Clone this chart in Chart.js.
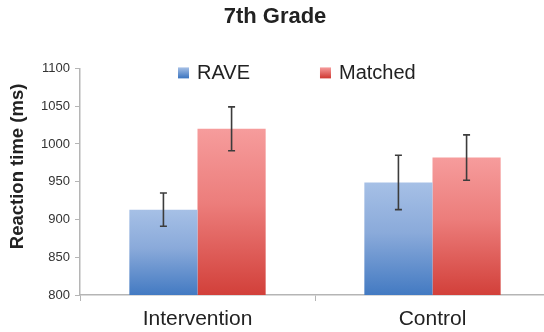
<!DOCTYPE html>
<html>
<head>
<meta charset="utf-8">
<script src="https://cdn.jsdelivr.net/npm/chart.js@4.4.1/dist/chart.umd.min.js"></script>
<style>
    html, body { margin: 0; padding: 0; background: #fff; overflow: hidden; }
    #wrap { width: 552px; height: 332px; }
</style>
</head>
<body>
<div id="wrap"><canvas id="chart"></canvas></div>
<script>
const groups = ['Intervention', 'Control'];
const raveValues = [913, 949];
const raveErrors = [22, 36];
const matchedValues = [1020, 982];
const matchedErrors = [29, 30];
const yMin = 800;
const yMax = 1100;
const yStep = 50;
const yTitle = 'Reaction time (ms)';

const FONT = '"Liberation Sans", Arial, sans-serif';
const blueStops = ['#a6c0e6', '#8aaada', '#437ac2'];
const redStops = ['#f69c9c', '#ec7d7b', '#d2403a'];

// vertical gradient from the top of each bar down to the axis
function barGradient(stops) {
    return function (ctx) {
        const chart = ctx.chart;
        if (!chart.chartArea || ctx.type !== 'data') return stops[1];
        const y = chart.scales.y;
        const top = y.getPixelForValue(ctx.raw);
        const bottom = y.getPixelForValue(y.min);
        const g = chart.ctx.createLinearGradient(0, top, 0, bottom);
        g.addColorStop(0, stops[0]);
        g.addColorStop(0.45, stops[1]);
        g.addColorStop(1, stops[2]);
        return g;
    };
}

const errorBars = {
    id: 'errorBars',
    afterDatasetsDraw(chart) {
        const c = chart.ctx;
        const y = chart.scales.y;
        c.save();
        c.strokeStyle = '#3c3c3c';
        c.lineWidth = 1.6;
        chart.data.datasets.forEach((ds, i) => {
            const meta = chart.getDatasetMeta(i);
            meta.data.forEach((bar, j) => {
                const v = ds.data[j];
                const e = ds.errors[j];
                const yt = y.getPixelForValue(v + e);
                const yb = y.getPixelForValue(v - e);
                c.beginPath();
                c.moveTo(bar.x, yt); c.lineTo(bar.x, yb);
                c.moveTo(bar.x - 3.5, yt); c.lineTo(bar.x + 3.5, yt);
                c.moveTo(bar.x - 3.5, yb); c.lineTo(bar.x + 3.5, yb);
                c.stroke();
            });
        });
        c.restore();
    }
};

// legend sits inside the plot, plus the y title a bit above centre
const annotations = {
    id: 'annotations',
    afterDraw(chart) {
        const c = chart.ctx;
        const area = chart.chartArea;
        const cy = area.top + 4;
        let x = area.left + 98;
        c.save();
        c.font = '20px ' + FONT;
        c.textBaseline = 'middle';
        chart.data.datasets.forEach(ds => {
            const g = c.createLinearGradient(0, cy - 5, 0, cy + 5);
            g.addColorStop(0, ds.legendStops[0]);
            g.addColorStop(1, ds.legendStops[2]);
            c.fillStyle = g;
            c.fillRect(x, cy - 5, 11, 11);
            c.fillStyle = '#222';
            c.fillText(ds.label, x + 19, cy + 1);
            x += 19 + c.measureText(ds.label).width + 70;
        });

        c.translate(18, area.top + 98);
        c.rotate(-Math.PI / 2);
        c.font = 'bold 18.5px ' + FONT;
        c.textAlign = 'center';
        c.fillText(yTitle, 0, 0);
        c.restore();
    }
};

new Chart(document.getElementById('chart'), {
    type: 'bar',
    data: {
        labels: groups,
        datasets: [
            {
                label: 'RAVE',
                data: raveValues,
                errors: raveErrors,
                legendStops: blueStops,
                backgroundColor: barGradient(blueStops),
                categoryPercentage: 0.58,
                barPercentage: 1.0
            },
            {
                label: 'Matched',
                data: matchedValues,
                errors: matchedErrors,
                legendStops: redStops,
                backgroundColor: barGradient(redStops),
                categoryPercentage: 0.58,
                barPercentage: 1.0
            }
        ]
    },
    options: {
        responsive: true,
        maintainAspectRatio: false,
        animation: false,
        layout: { padding: { left: 0, right: 2, top: 0, bottom: 0 } },
        scales: {
            x: {
                grid: {
                    display: true,
                    drawOnChartArea: false,
                    drawTicks: true,
                    tickLength: 6,
                    color: '#b5b5b5'
                },
                border: { color: '#b5b5b5', width: 1.5 },
                ticks: {
                    color: '#222',
                    font: { family: FONT, size: 21 },
                    padding: 6,
                    maxRotation: 0
                },
                afterFit(scale) { scale.height = 37; }
            },
            y: {
                min: yMin,
                max: yMax,
                ticks: {
                    stepSize: yStep,
                    color: '#333',
                    font: { family: FONT, size: 13 },
                    padding: 5,
                    callback: v => String(v)
                },
                grid: {
                    drawOnChartArea: false,
                    drawTicks: true,
                    tickLength: 5,
                    color: '#b5b5b5'
                },
                border: { color: '#b5b5b5', width: 1.5 },
                afterFit(scale) { scale.width = 80; }
            }
        },
        plugins: {
            legend: { display: false },
            tooltip: { enabled: false },
            title: {
                display: true,
                text: '7th Grade',
                color: '#222',
                font: { family: FONT, size: 22, weight: 'bold' },
                padding: { top: 4, bottom: 38 }
            }
        }
    },
    plugins: [errorBars, annotations]
});
</script>
</body>
</html>
